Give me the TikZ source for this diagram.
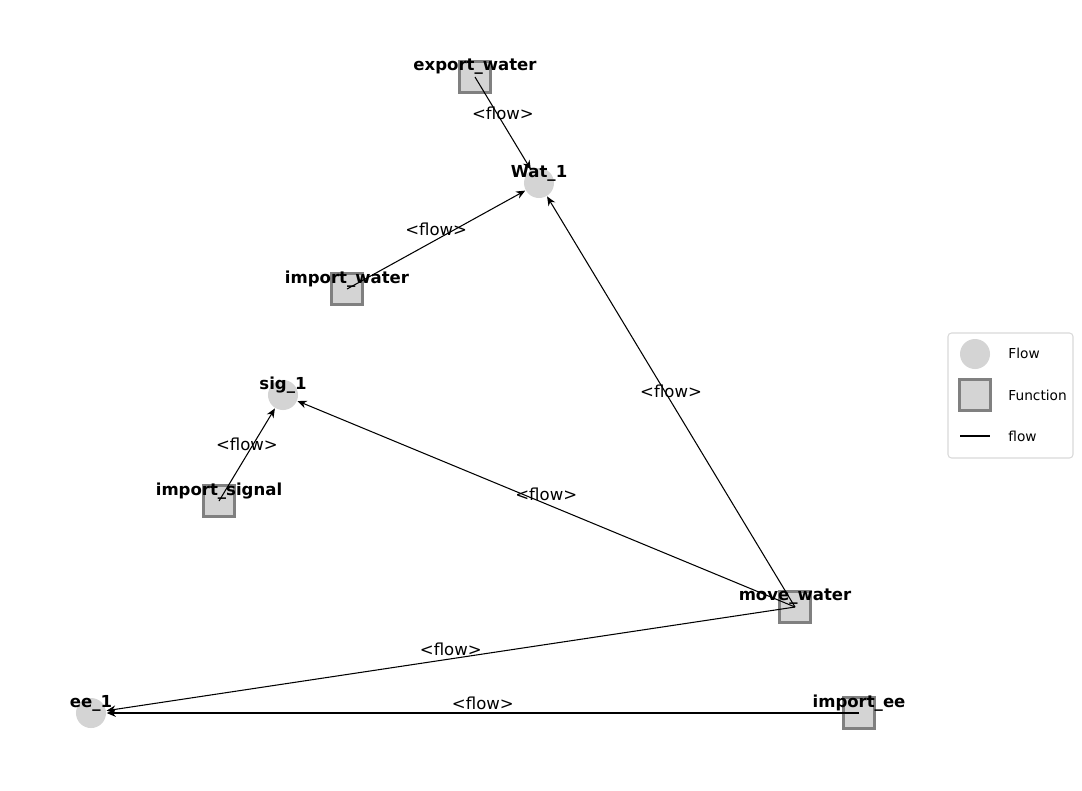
\documentclass[tikz,border=0pt]{standalone}
\usepackage{fontspec}
\setmainfont{DejaVu Sans}
\usetikzlibrary{arrows.meta}
\tikzset{
	flownode/.style={circle,fill=black!17,inner sep=0pt,minimum size=0.3cm},
	funcnode/.style={rectangle,fill=black!17,draw=black!50,line width=0.6pt,inner sep=0pt,minimum size=0.31cm},
	lbl/.style={font=\fontsize{4.7}{5.5}\selectfont\bfseries,yshift=0.1cm},
	edgelbl/.style={font=\fontsize{4.7}{5.5}\selectfont,midway,yshift=0.1cm},
	flowedge/.style={-{Stealth[length=2.6pt,width=2.2pt]},line width=0.3pt}
}
\begin{document}
\begin{tikzpicture}[x=0.01cm,y=-0.01cm]
			\useasboundingbox (0,0) rectangle (1082,790);
			% nodes
			\node[funcnode,label={[lbl]center:export\_water}] (exportwater) at (475,77) {};
			\node[flownode,label={[lbl]center:Wat\_1}] (wat1) at (539,183) {};
			\node[funcnode,label={[lbl]center:import\_water}] (importwater) at (347,289) {};
			\node[flownode,label={[lbl]center:sig\_1}] (sig1) at (283,395) {};
			\node[funcnode,label={[lbl]center:import\_signal}] (importsignal) at (219,501) {};
			\node[funcnode,label={[lbl]center:move\_water}] (movewater) at (795,607) {};
			\node[flownode,label={[lbl]center:ee\_1}] (ee1) at (91,713) {};
			\node[funcnode,label={[lbl]center:import\_ee}] (importee) at (859,713) {};
			% edges
			\foreach \S/\E in {exportwater/wat1, importwater/wat1, movewater/wat1,
				importsignal/sig1, movewater/sig1, movewater/ee1, importee/ee1}
				\draw[flowedge] (\S.center) -- (\E) node[edgelbl] {<flow>};
			% legend
			\draw[black!15,rounded corners=1pt,line width=0.3pt] (948,333) rectangle (1073,458);
			\node[flownode] (legflow) at (975,354) {};
			\node[funcnode] (legfunc) at (975,395) {};
			\coordinate (legA) at (960,436);
			\coordinate (legB) at (990,436);
			\draw[line width=0.45pt] (legA) -- (legB);
			\node[anchor=west,font=\fontsize{3.9}{4.5}\selectfont] (tflow) at (996,353) {Flow};
			\node[anchor=west,font=\fontsize{3.9}{4.5}\selectfont] (tfunc) at (996,395) {Function};
			\node[anchor=west,font=\fontsize{3.9}{4.5}\selectfont] (tedge) at (996,436) {flow};
\end{tikzpicture}
\end{document}
